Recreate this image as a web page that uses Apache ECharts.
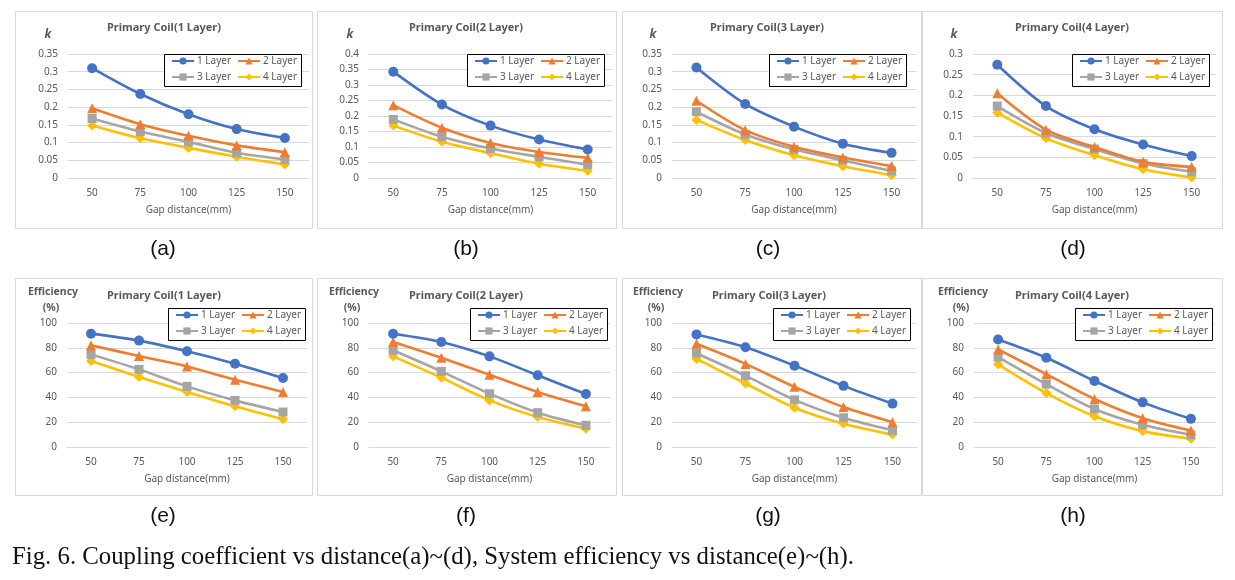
<!DOCTYPE html>
<html><head><meta charset="utf-8">
<script src="https://cdn.jsdelivr.net/npm/echarts@6/dist/echarts.min.js"></script>
<style>html,body{margin:0;padding:0;background:#fff}#c{width:1235px;height:580px}</style>
</head><body><div id="c"></div>
<script>
// ---------------- data ----------------
const categories = ['50', '75', '100', '125', '150'];
const seriesNames = ['1 Layer', '2 Layer', '3 Layer', '4 Layer'];
const panelTitles = ['Primary Coil(1 Layer)', 'Primary Coil(2 Layer)', 'Primary Coil(3 Layer)', 'Primary Coil(4 Layer)'];
const panelLabelsTop = ['(a)', '(b)', '(c)', '(d)'];
const panelLabelsBottom = ['(e)', '(f)', '(g)', '(h)'];
const xAxisName = 'Gap distance(mm)';
const kAxisName = 'k';
const effAxisName1 = 'Efficiency';
const effAxisName2 = '(%)';
const captionText = 'Fig. 6. Coupling coefficient vs distance(a)~(d), System efficiency vs distance(e)~(h).';

// coupling coefficient k, rows = 1..4 Layer (secondary)
const kCoil1 = [
  [0.310, 0.237, 0.180, 0.138, 0.113],
  [0.197, 0.152, 0.119, 0.092, 0.073],
  [0.168, 0.131, 0.102, 0.071, 0.052],
  [0.148, 0.112, 0.085, 0.060, 0.038]
];
const kCoil2 = [
  [0.343, 0.237, 0.169, 0.124, 0.092],
  [0.235, 0.162, 0.113, 0.084, 0.065],
  [0.189, 0.133, 0.095, 0.068, 0.043],
  [0.169, 0.117, 0.080, 0.046, 0.023]
];
const kCoil3 = [
  [0.312, 0.209, 0.145, 0.097, 0.071],
  [0.218, 0.135, 0.088, 0.058, 0.034],
  [0.187, 0.123, 0.081, 0.050, 0.020],
  [0.164, 0.107, 0.064, 0.033, 0.008]
];
const kCoil4 = [
  [0.274, 0.174, 0.118, 0.081, 0.053],
  [0.205, 0.117, 0.075, 0.039, 0.027],
  [0.174, 0.109, 0.070, 0.035, 0.015],
  [0.158, 0.096, 0.055, 0.021, 0.001]
];
// system efficiency (%)
const effCoil1 = [
  [91.4, 85.8, 77.2, 67.2, 55.6],
  [82.0, 73.4, 65.0, 54.3, 44.4],
  [74.7, 62.6, 48.9, 37.6, 28.2],
  [69.4, 56.5, 44.4, 32.8, 22.3]
];
const effCoil2 = [
  [91.4, 84.7, 73.1, 57.8, 42.7],
  [84.7, 72.0, 58.3, 44.4, 32.8],
  [78.0, 61.0, 43.0, 27.7, 17.5],
  [73.1, 55.9, 37.6, 24.2, 14.8]
];
const effCoil3 = [
  [90.8, 80.5, 65.6, 49.3, 35.0],
  [83.2, 67.0, 48.5, 32.2, 20.0],
  [75.6, 57.5, 38.0, 23.6, 13.5],
  [71.0, 51.2, 31.7, 18.7, 10.0]
];
const effCoil4 = [
  [86.7, 72.0, 53.3, 36.0, 22.7],
  [78.7, 58.7, 38.7, 23.2, 13.3],
  [72.5, 50.7, 30.7, 17.9, 9.9],
  [66.7, 43.5, 24.8, 12.8, 6.7]
];
const kAxisMax = [0.35, 0.4, 0.35, 0.3];
const kAxisStep = 0.05;
const effAxisMax = 100;
const effAxisStep = 20;

// ---------------- layout / style ----------------
const colors = ['#4472C4', '#ED7D31', '#A5A5A5', '#FFC000'];
const symbols = ['circle', 'triangle', 'rect', 'diamond'];
const symbolSizes = [10, 10, 9, 10];
const FONT = 'Noto Sans';
const GRAY = '#595959';

const topGrids = [
  { left: 68, width: 241 }, { left: 369, width: 243 }, { left: 672, width: 244 }, { left: 973, width: 243 }
];
const botGrids = [
  { left: 67, width: 240 }, { left: 369, width: 241 }, { left: 672, width: 245 }, { left: 974, width: 241 }
];
const frameX = [[15, 297], [317, 299], [622, 299], [922, 300]];
const titleXTop = [164, 466, 767, 1072];
const titleXBot = [164, 466, 769, 1072];
const kLabelX = [48, 350, 653, 954];
const effLabelX = [53, 354, 658, 963];
const legendBoxTop = [164, 467, 769, 1072];
const legendBoxBot = [168, 470, 773, 1075];
const caseLabelX = [163, 466, 768, 1073];

const kData = [kCoil1, kCoil2, kCoil3, kCoil4];
const effData = [effCoil1, effCoil2, effCoil3, effCoil4];

const grid = [], xAxis = [], yAxis = [], series = [], legend = [], graphic = [];

function addLegend(boxLeft, boxTop) {
  graphic.push({ type: 'rect', shape: { x: boxLeft + 0.5, y: boxTop + 0.5, width: 137, height: 32 },
    style: { fill: '#fff', stroke: '#000', lineWidth: 1 }, z: 50 });
  const rows = [[seriesNames[0], seriesNames[1]], [seriesNames[2], seriesNames[3]]];
  rows.forEach((r, k) => {
    legend.push({
      data: r, left: boxLeft + 7, top: boxTop + 2 + k * 16, orient: 'horizontal',
      itemWidth: 22, itemHeight: 9, itemGap: 6, padding: 0, z: 60,
      textStyle: { color: GRAY, fontSize: 10, fontFamily: FONT, padding: [0, 0, 0, -2] },
      selectedMode: false
    });
  });
}

function addPanel(idx, g, top, height, max, step, data) {
  grid.push({ left: g.left, width: g.width, top: top, height: height });
  xAxis.push({
    gridIndex: idx, type: 'category', data: categories, boundaryGap: true,
    axisLine: { lineStyle: { color: '#D9D9D9' } }, axisTick: { show: false },
    axisLabel: { color: GRAY, fontSize: 10, fontFamily: FONT, margin: 10 },
    name: xAxisName, nameLocation: 'middle', nameGap: 27,
    nameTextStyle: { color: GRAY, fontSize: 10, fontFamily: FONT }
  });
  yAxis.push({
    gridIndex: idx, type: 'value', min: 0, max: max, interval: step,
    axisLine: { show: false }, axisTick: { show: false },
    axisLabel: { color: GRAY, fontSize: 10, fontFamily: FONT, margin: 10 },
    splitLine: { lineStyle: { color: '#D9D9D9', width: 1 } }
  });
  data.forEach((row, i) => {
    series.push({
      type: 'line', name: seriesNames[i], xAxisIndex: idx, yAxisIndex: idx,
      data: row, smooth: 0.3, symbol: symbols[i], symbolSize: symbolSizes[i],
      lineStyle: { color: colors[i], width: 2.6 }, itemStyle: { color: colors[i] },
      z: 10 - i, animation: false
    });
  });
}

for (let p = 0; p < 4; p++) {
  addPanel(p, topGrids[p], 54, 124, kAxisMax[p], kAxisStep, kData[p]);
  addLegend(legendBoxTop[p], 54);
}
for (let p = 0; p < 4; p++) {
  addPanel(4 + p, botGrids[p], 323, 124, effAxisMax, effAxisStep, effData[p]);
  addLegend(legendBoxBot[p], 308);
}

for (let p = 0; p < 4; p++) {
  graphic.push({ type: 'rect', shape: { x: frameX[p][0] + 0.5, y: 11.5, width: frameX[p][1], height: 217 },
    style: { fill: 'none', stroke: '#D9D9D9', lineWidth: 1 }, z: -1 });
  graphic.push({ type: 'rect', shape: { x: frameX[p][0] + 0.5, y: 278.5, width: frameX[p][1], height: 217 },
    style: { fill: 'none', stroke: '#D9D9D9', lineWidth: 1 }, z: -1 });
  graphic.push({ type: 'text', x: titleXTop[p], y: 28, style: { text: panelTitles[p], fill: GRAY,
    font: 'bold 11px "' + FONT + '"', align: 'center', verticalAlign: 'middle' } });
  graphic.push({ type: 'text', x: titleXBot[p], y: 296, style: { text: panelTitles[p], fill: GRAY,
    font: 'bold 11px "' + FONT + '"', align: 'center', verticalAlign: 'middle' } });
  graphic.push({ type: 'text', x: kLabelX[p], y: 35, style: { text: kAxisName, fill: GRAY,
    font: 'italic bold 12px "' + FONT + '"', align: 'center', verticalAlign: 'middle' } });
  graphic.push({ type: 'text', x: effLabelX[p], y: 292, style: { text: effAxisName1, fill: GRAY,
    font: 'bold 10.5px "' + FONT + '"', align: 'center', verticalAlign: 'middle' } });
  graphic.push({ type: 'text', x: effLabelX[p] - 2, y: 308, style: { text: effAxisName2, fill: GRAY,
    font: 'bold 10.5px "' + FONT + '"', align: 'center', verticalAlign: 'middle' } });
  graphic.push({ type: 'text', x: caseLabelX[p], y: 249, style: { text: panelLabelsTop[p], fill: '#111',
    font: '21px "Liberation Sans"', align: 'center', verticalAlign: 'middle' } });
  graphic.push({ type: 'text', x: caseLabelX[p], y: 516, style: { text: panelLabelsBottom[p], fill: '#111',
    font: '21px "Liberation Sans"', align: 'center', verticalAlign: 'middle' } });
}
graphic.push({ type: 'text', x: 12, y: 557, style: { text: captionText, fill: '#111',
  font: '24.8px "Liberation Serif"', align: 'left', verticalAlign: 'middle' } });

const chart = echarts.init(document.getElementById('c'), null, { renderer: 'canvas' });
chart.setOption({
  backgroundColor: '#fff', animation: false,
  grid, xAxis, yAxis, series, legend, graphic
});
</script></body></html>
